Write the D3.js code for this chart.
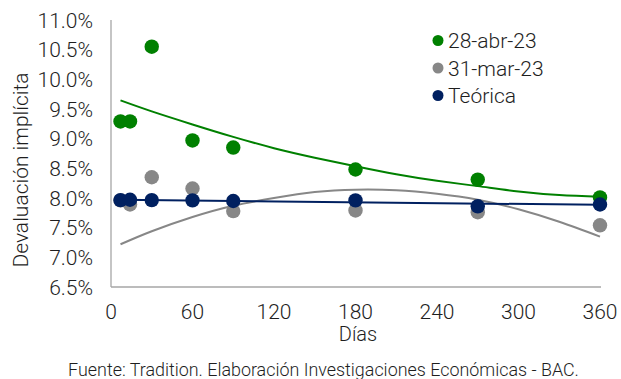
<!DOCTYPE html>
<html>
<head>
<meta charset="utf-8">
<script src="https://cdn.jsdelivr.net/npm/d3@7"></script>
<style>
  html, body { margin: 0; padding: 0; background: #fff; }
  svg { display: block; }
  text { font-family: Roboto, "Liberation Sans", sans-serif; font-weight: 300; fill: #1e1e1e; }
</style>
</head>
<body>
<svg id="chart" width="621" height="379"></svg>
<script>
// Plazos (días) de cada punto observado
const days = [7, 14, 30, 60, 90, 180, 270, 360];

// Devaluación implícita (%) por fecha
const abr23 = [9.29, 9.29, 10.55, 8.97, 8.85, 8.48, 8.31, 8.01];
const mar23 = [7.96, 7.89, 8.35, 8.16, 7.78, 7.79, 7.76, 7.54];
const teorica = [7.965, 7.97, 7.965, 7.96, 7.95, 7.96, 7.86, 7.89];

// Líneas de tendencia de cada serie (día, %)
const trendDays = [7, 30, 60, 90, 120, 150, 180, 210, 240, 270, 300, 330, 360];
const abr23Trend = [9.645, 9.46, 9.24, 9.03, 8.84, 8.68, 8.535, 8.40, 8.29, 8.20, 8.11, 8.05, 8.02];
const mar23Trend = [7.22, 7.44, 7.68, 7.87, 8.00, 8.10, 8.14, 8.13, 8.07, 7.97, 7.81, 7.60, 7.35];
const teoricaTrendDays = [7, 360];
const teoricaTrend = [7.97, 7.885];

// Ejes
const xTicks = [0, 60, 120, 180, 240, 300, 360];
const yTicks = [6.5, 7.0, 7.5, 8.0, 8.5, 9.0, 9.5, 10.0, 10.5, 11.0];

const seriesNames = ["28-abr-23", "31-mar-23", "Teórica"];
const colors = ["#008000", "#878787", "#002060"];

const svg = d3.select("#chart");

const x = d3.scaleLinear().domain([0, 360]).range([111, 600]);
const y = d3.scaleLinear().domain([6.5, 11.0]).range([287, 20]);

// Líneas de los ejes
svg.append("line")
  .attr("x1", x(0)).attr("x2", x(0))
  .attr("y1", y(11)).attr("y2", y(6.5))
  .attr("stroke", "#a6a6a6").attr("stroke-width", 1.3);
svg.append("line")
  .attr("x1", x(0)).attr("x2", x(360) + 1)
  .attr("y1", y(6.5)).attr("y2", y(6.5))
  .attr("stroke", "#a6a6a6").attr("stroke-width", 1.3);

// Etiquetas del eje Y
svg.append("g").selectAll("text")
  .data(yTicks).join("text")
  .attr("x", 93)
  .attr("y", d => y(d))
  .attr("dy", "0.36em")
  .attr("text-anchor", "end")
  .style("font-size", "21px")
  .text(d => d3.format(".1f")(d) + "%");

// Etiquetas del eje X
svg.append("g").selectAll("text")
  .data(xTicks).join("text")
  .attr("x", d => x(d))
  .attr("y", 318.5)
  .attr("text-anchor", "middle")
  .style("font-size", "21px")
  .text(d => d);

// Títulos de los ejes
svg.append("text")
  .attr("transform", "translate(28,170) rotate(-90)")
  .attr("text-anchor", "middle")
  .style("font-size", "21px")
  .text("Devaluación implícita");

svg.append("text")
  .attr("x", 358).attr("y", 340.5)
  .attr("text-anchor", "middle")
  .style("font-size", "20px")
  .text("Días");

// Fuente
svg.append("text")
  .attr("x", 323.5).attr("y", 376)
  .attr("text-anchor", "middle")
  .style("font-size", "17.9px")
  .text("Fuente: Tradition. Elaboración Investigaciones Económicas - BAC.");

// Tendencias
const line = d3.line()
  .x(d => x(d[0]))
  .y(d => y(d[1]))
  .curve(d3.curveNatural);

const trends = [
  d3.zip(trendDays, abr23Trend),
  d3.zip(trendDays, mar23Trend),
  d3.zip(teoricaTrendDays, teoricaTrend)
];

svg.append("g").selectAll("path")
  .data(trends).join("path")
  .attr("d", line)
  .attr("fill", "none")
  .attr("stroke", (d, i) => colors[i])
  .attr("stroke-width", 2);

// Puntos
const series = [abr23, mar23, teorica];
series.forEach((vals, i) => {
  svg.append("g").selectAll("circle")
    .data(d3.zip(days, vals)).join("circle")
    .attr("cx", d => x(d[0]))
    .attr("cy", d => y(d[1]))
    .attr("r", 7.2)
    .attr("fill", colors[i]);
});

// Leyenda
const legend = svg.append("g");
seriesNames.forEach((name, i) => {
  const cy = 40.5 + i * 27.5;
  legend.append("circle")
    .attr("cx", 438).attr("cy", cy).attr("r", 5.5)
    .attr("fill", colors[i]);
  legend.append("text")
    .attr("x", 448).attr("y", cy)
    .attr("dy", "0.36em")
    .style("font-size", "21px")
    .text(name);
});
</script>
</body>
</html>
